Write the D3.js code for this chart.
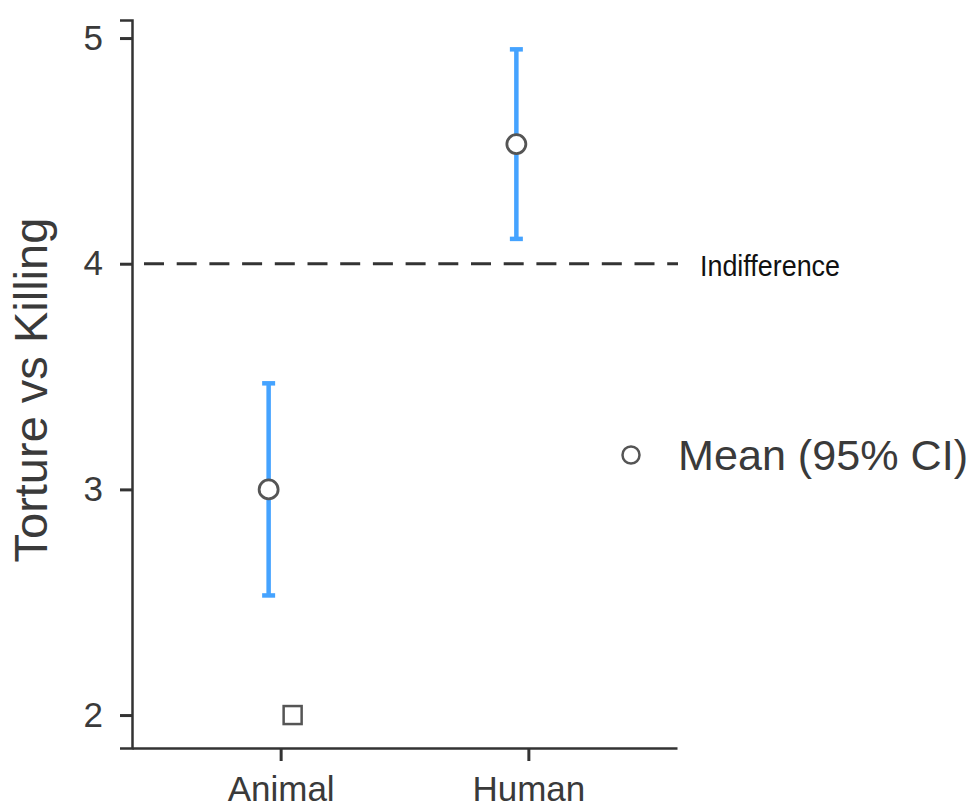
<!DOCTYPE html>
<html lang="en">
  <head>
    <meta charset="UTF-8" />
    <title>Torture vs Killing</title>
    <script src="https://d3js.org/d3.v7.min.js"></script>
    <style>
      body { margin: 0; background: #fff; }
      text { font-family: "Liberation Sans", Arial, sans-serif; }
    </style>
  </head>
  <body>
    <svg width="974" height="811" id="chart"></svg>

    <script>
      // Data
      const groups = ["Animal", "Human"];
      const means = [3.0, 4.53];
      const ciLow = [2.53, 4.11];
      const ciHigh = [3.47, 4.95];
      const squareGroups = ["Animal"];
      const squareValues = [2.0];
      const yTicks = [2, 3, 4, 5];
      const indifference = 4;

      const svg = d3.select("#chart");
      const axisColor = "#333";
      const barColor = "#45a3ff";
      const dodge = 12;

      // Scales
      const x = d3.scalePoint().domain(groups).range([132, 677]).padding(0.6);
      const y = d3.scaleLinear().domain([1.854, 5.08]).range([748, 20]);

      // Y axis
      const yAxis = svg.append("g")
        .attr("transform", "translate(132,0)")
        .call(d3.axisLeft(y).tickValues(yTicks).tickFormat(d3.format("d")).tickSize(12).tickPadding(17));
      yAxis.select(".domain").attr("stroke", axisColor).attr("stroke-width", 2.5);
      yAxis.selectAll(".tick line").attr("stroke", axisColor).attr("stroke-width", 3);
      yAxis.selectAll(".tick text").attr("fill", "#3a3a3a").attr("font-size", 35)
        .attr("font-family", "'Liberation Sans', Arial, sans-serif");

      // X axis
      const xAxis = svg.append("g")
        .attr("transform", "translate(0,748)")
        .call(d3.axisBottom(x).tickSize(13).tickPadding(15).tickSizeOuter(0));
      xAxis.select(".domain").attr("stroke", axisColor).attr("stroke-width", 2.5);
      xAxis.selectAll(".tick line").attr("stroke", axisColor).attr("stroke-width", 3);
      xAxis.selectAll(".tick text").attr("fill", "#3a3a3a").attr("font-size", 35)
        .attr("font-family", "'Liberation Sans', Arial, sans-serif");

      // Axis title
      svg.append("text")
        .attr("transform", "translate(47," + y(3.44) + ") rotate(-90)")
        .attr("text-anchor", "middle")
        .attr("font-size", 47)
        .attr("fill", "#3a3a3a")
        .text("Torture vs Killing");

      // Indifference line
      svg.append("line")
        .attr("x1", 132).attr("x2", 678)
        .attr("y1", y(indifference)).attr("y2", y(indifference))
        .attr("stroke", axisColor)
        .attr("stroke-width", 3)
        .attr("stroke-dasharray", "20,12.7")
        .attr("stroke-dashoffset", 20.7);

      svg.append("text")
        .attr("x", 700)
        .attr("y", y(indifference) + 12)
        .attr("font-size", 30)
        .attr("fill", "#111")
        .attr("textLength", 140)
        .attr("lengthAdjust", "spacingAndGlyphs")
        .text("Indifference");

      // Error bars
      const idx = d3.range(groups.length);
      const bars = svg.append("g");
      bars.selectAll(".ci")
        .data(idx)
        .join("line")
        .attr("x1", (i) => x(groups[i]) - dodge)
        .attr("x2", (i) => x(groups[i]) - dodge)
        .attr("y1", (i) => y(ciLow[i]))
        .attr("y2", (i) => y(ciHigh[i]))
        .attr("stroke", barColor)
        .attr("stroke-width", 4.5);
      [ciLow, ciHigh].forEach((arr) => {
        bars.selectAll(null)
          .data(idx)
          .join("line")
          .attr("x1", (i) => x(groups[i]) - dodge - 6.5)
          .attr("x2", (i) => x(groups[i]) - dodge + 6.5)
          .attr("y1", (i) => y(arr[i]))
          .attr("y2", (i) => y(arr[i]))
          .attr("stroke", barColor)
          .attr("stroke-width", 4.5);
      });

      // Means
      svg.append("g").selectAll("circle")
        .data(idx)
        .join("circle")
        .attr("cx", (i) => x(groups[i]) - dodge)
        .attr("cy", (i) => y(means[i]))
        .attr("r", 9.5)
        .attr("fill", "#fff")
        .attr("stroke", "#555")
        .attr("stroke-width", 2.8);

      // Square marker
      svg.append("g").selectAll("rect")
        .data(squareValues)
        .join("rect")
        .attr("x", (d, i) => x(squareGroups[i]) + dodge - 9)
        .attr("y", (d) => y(d) - 9)
        .attr("width", 18)
        .attr("height", 18)
        .attr("fill", "#fff")
        .attr("stroke", "#555")
        .attr("stroke-width", 2.5);

      // Legend
      const legend = svg.append("g").attr("transform", "translate(631,455)");
      legend.append("circle")
        .attr("r", 8.5)
        .attr("fill", "#fff")
        .attr("stroke", "#555")
        .attr("stroke-width", 2.5);
      legend.append("text")
        .attr("x", 47)
        .attr("y", 15)
        .attr("font-size", 42)
        .attr("fill", "#3a3a3a")
        .attr("textLength", 290)
        .attr("lengthAdjust", "spacingAndGlyphs")
        .text("Mean (95% CI)");
    </script>
  </body>
</html>
